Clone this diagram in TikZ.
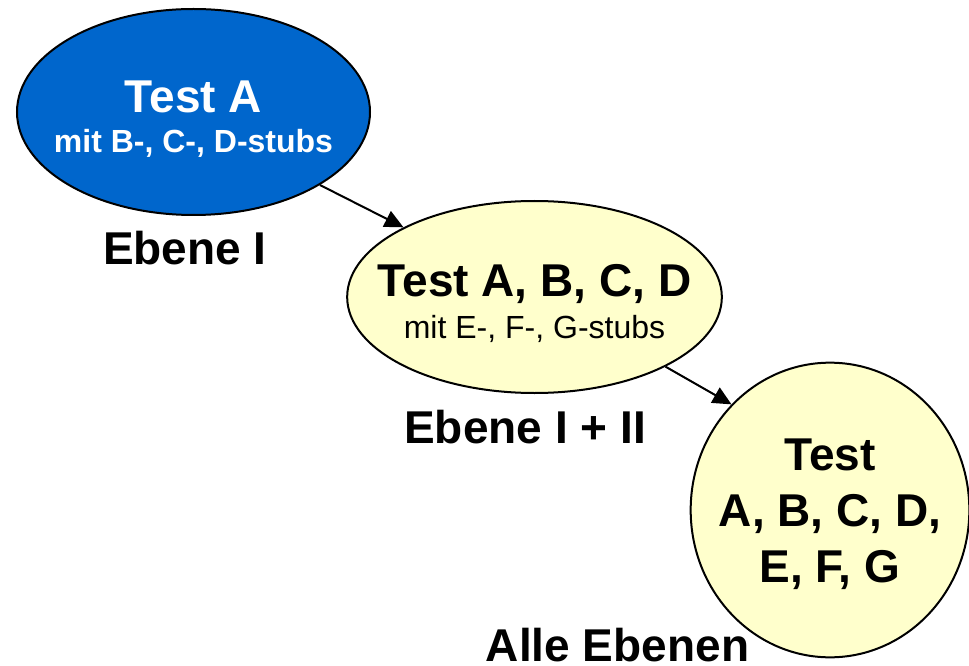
\documentclass[tikz,border=0pt]{standalone}
\usepackage{fontspec}
\setmainfont{Liberation Sans}
\usepackage{tikz}
\usetikzlibrary{arrows,arrows.meta,shapes.geometric,positioning}
\definecolor{stubblue}{RGB}{0,102,204}
\definecolor{stubyellow}{RGB}{255,255,204}
\tikzset{
    %Define standard arrow tip
    >={Triangle[length=14pt,width=13pt]},
    %Define style for the test ellipses
    testblue/.style={
           ellipse,
           draw=black, line width=1.5pt,
           minimum width=264.75pt,
           minimum height=154.5pt,
           inner xsep=-30pt, inner ysep=0pt,
           align=center,
           text=white,
           font=\fontsize{34.5}{30}\selectfont\bfseries,
           fill=stubblue},
    testyellow/.style={
           ellipse,
           draw=black, line width=1.5pt,
           minimum width=281pt,
           minimum height=144pt,
           inner xsep=-30pt, inner ysep=0pt,
           align=center,
           font=\fontsize{34.5}{32}\selectfont\bfseries,
           fill=stubyellow},
    testall/.style={
           ellipse,
           draw=black, line width=1.5pt,
           minimum width=209pt,
           minimum height=221pt,
           inner xsep=-30pt, inner ysep=0pt,
           align=center,
           font=\fontsize{34.5}{42}\selectfont\bfseries,
           fill=stubyellow},
    %Define style for the level labels
    ebene/.style={
           anchor=base,
           inner sep=0pt,
           font=\fontsize{34.5}{41}\selectfont\bfseries},
    % Define arrow style
    pil/.style={
           ->,
           line width=1.5pt}
}
\begin{document}
\begin{tikzpicture}[x=0.75pt,y=-0.75pt]
\useasboundingbox (0,0) rectangle (969,666);
\node[testblue](a) at (193.5,112){\rule{0pt}{34pt}Test A\\{\fontsize{24}{30}\selectfont mit B-, C-, D-stubs}};
\node[testyellow](abcd) at (534.5,297){\rule{0pt}{34pt}Test A, B, C, D\\{\fontsize{24}{32}\selectfont\mdseries mit E-, F-, G-stubs}};
\node[testall](alle) at (830,510){\rule{0pt}{30pt}Test\\A, B, C, D,\\E, F, G};
\node[ebene](l1) at (185,265){Ebene I};
\node[ebene](l2) at (525,443){Ebene I + II};
\node[ebene](l3) at (617.5,661){Alle Ebenen};
 \path[pil]
    (a.-30) edge (abcd.152)
    (abcd.-28) edge (alle.133);
\end{tikzpicture}
\end{document}
